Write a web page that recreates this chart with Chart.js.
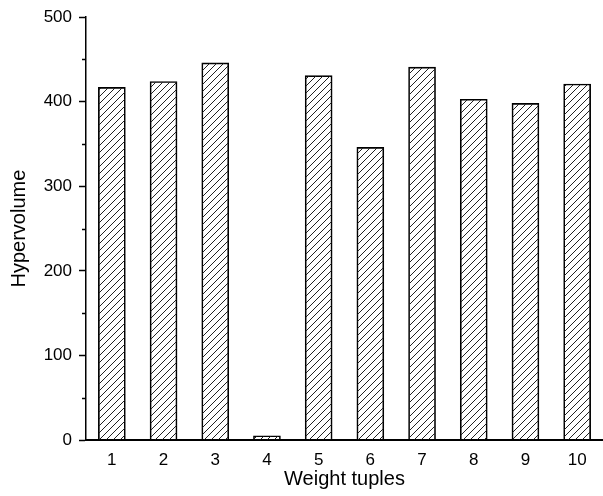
<!DOCTYPE html>
<html>
<head>
<meta charset="utf-8">
<script src="https://cdn.jsdelivr.net/npm/chart.js@4/dist/chart.umd.min.js"></script>
<style>
  body { margin: 0; background: #fff; }
  #wrap { width: 603px; height: 496px; }
</style>
</head>
<body>
<div id="wrap"><canvas id="hvChart" width="603" height="496"></canvas></div>
<script>
const categories = ["1", "2", "3", "4", "5", "6", "7", "8", "9", "10"];
const hypervolume = [417, 424, 446, 5, 431, 346, 441, 403, 398, 421];
const yTicks = [0, 100, 200, 300, 400, 500];
const yMinorTicks = [50, 150, 250, 350, 450];

// hatch fill, like the "/" pattern in the original plot
function makeHatch() {
  const size = 7;
  const c = document.createElement("canvas");
  c.width = size;
  c.height = size;
  const g = c.getContext("2d");
  g.strokeStyle = "#222";
  g.lineWidth = 1;
  g.beginPath();
  g.moveTo(0, size);
  g.lineTo(size, 0);
  g.moveTo(-1, 1);
  g.lineTo(1, -1);
  g.moveTo(size - 1, size + 1);
  g.lineTo(size + 1, size - 1);
  g.stroke();
  return g.createPattern(c, "repeat");
}

// small minor ticks on the y axis (between the labelled ones)
const minorTicks = {
  id: "minorTicks",
  afterDraw(chart) {
    const y = chart.scales.y;
    const ctx = chart.ctx;
    ctx.save();
    ctx.strokeStyle = "#000";
    ctx.lineWidth = 1.5;
    yMinorTicks.forEach((v) => {
      const py = Math.round(y.getPixelForValue(v)) + 0.5;
      ctx.beginPath();
      ctx.moveTo(y.right - 4, py);
      ctx.lineTo(y.right, py);
      ctx.stroke();
    });
    ctx.restore();
  },
};

Chart.defaults.font.family = "'Liberation Sans', Arial, sans-serif";
Chart.defaults.color = "#000";

let hvChart = new Chart(document.getElementById("hvChart").getContext("2d"), {
  type: "bar",
  data: {
    labels: categories,
    datasets: [
      {
        label: "Hypervolume",
        data: hypervolume,
        backgroundColor: makeHatch(),
        borderColor: "#000",
        borderWidth: 1,
        barThickness: 27,
      },
    ],
  },
  options: {
    responsive: false,
    animation: false,
    layout: { padding: { top: 12, right: -8, left: 0, bottom: 5 } },
    plugins: { legend: { display: false }, tooltip: { enabled: false } },
    scales: {
      x: {
        grid: { display: false, drawTicks: false },
        border: { color: "#000", width: 2 },
        ticks: { font: { size: 17 }, padding: 10, maxRotation: 0 },
        title: {
          display: true,
          text: "Weight tuples",
          font: { size: 20 },
          padding: { top: 0, bottom: 0 },
        },
        afterFit: (scale) => {
          scale.height = 51;
        },
      },
      y: {
        min: 0,
        max: 500,
        afterBuildTicks: (scale) => {
          scale.ticks = yTicks.map((v) => ({ value: v }));
        },
        grid: {
          drawOnChartArea: false,
          drawTicks: true,
          tickLength: 7,
          tickColor: "#000",
          tickWidth: 1.5,
        },
        border: { color: "#000", width: 1.5 },
        ticks: { font: { size: 17 }, padding: 7 },
        title: {
          display: true,
          text: "Hypervolume",
          font: { size: 20 },
          padding: { top: 7, bottom: 8 },
        },
        afterFit: (scale) => {
          scale.width = 86;
        },
      },
    },
  },
  plugins: [minorTicks],
});
</script>
</body>
</html>
